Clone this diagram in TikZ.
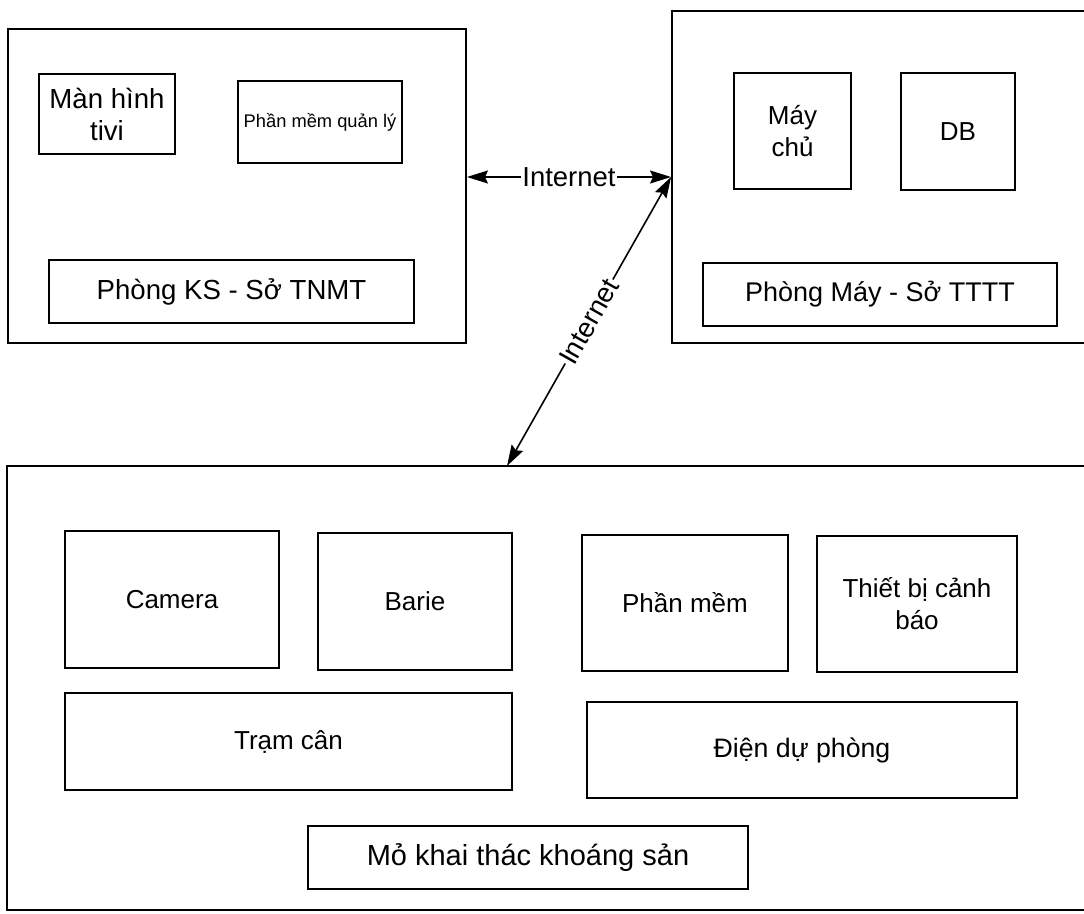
\documentclass[tikz,border=0pt]{standalone}
\usepackage{fontspec}
\setmainfont{Liberation Sans}
\usetikzlibrary{arrows.meta}
\tikzset{
  panel/.style={draw, line width=1.9pt, inner sep=0pt},
  box/.style={draw, line width=1.7pt, inner sep=0pt, align=center, font=\fontsize{26}{32}\selectfont},
  bigtext/.style={font=\fontsize{27.6}{32}\selectfont},
  smallbox/.style={box, font=\fontsize{18.3}{21}\selectfont},
  link/.style={line width=1.6pt, {Stealth[length=21pt,width=13pt,inset=3pt]}-{Stealth[length=21pt,width=13pt,inset=3pt]}},
  linklabel/.style={fill=white, inner sep=1.5pt, font=\fontsize{27.5}{32}\selectfont}
}
\begin{document}
\begin{tikzpicture}[x=1pt,y=-1pt]
\useasboundingbox (0,0) rectangle (1084,913);
\fill[white] (0,0) rectangle (1084,913);
\clip (0,0) rectangle (1084,913);
% panels
\node[panel, minimum width=458pt, minimum height=314pt] (tl) at (237,186) {};
\node[panel, minimum width=428pt, minimum height=332pt] (tr) at (886,177) {};
\node[panel, minimum width=1093pt, minimum height=444pt] (bot) at (553.5,688) {};
% top-left contents
\node[box, bigtext, minimum width=136pt, minimum height=80pt] (tv) at (107,114) {Màn hình\\tivi};
\node[smallbox, minimum width=164pt, minimum height=82pt] (pmql) at (320,122) {Phần mềm quản lý};
\node[box, bigtext, minimum width=365pt, minimum height=63pt] (ks) at (231.5,291.5) {Phòng KS - Sở TNMT};
% top-right contents
\node[box, minimum width=117pt, minimum height=116pt] (maychu) at (792.5,131) {Máy\\chủ};
\node[box, minimum width=114pt, minimum height=117pt] (db) at (958,131.5) {DB};
\node[box, font=\fontsize{27}{32}\selectfont, minimum width=354pt, minimum height=63pt] (pmay) at (880,294.5) {Phòng Máy - Sở TTTT};
% bottom contents
\node[box, minimum width=214pt, minimum height=137pt] (cam) at (172,599.5) {Camera};
\node[box, minimum width=194pt, minimum height=137pt] (barie) at (415,601.5) {Barie};
\node[box, minimum width=206pt, minimum height=136pt] (pm) at (685,603) {Phần mềm};
\node[box, minimum width=200pt, minimum height=136pt] (tb) at (917,604) {Thiết bị cảnh\\báo};
\node[box, minimum width=447pt, minimum height=97pt] (tram) at (288.5,741.5) {Trạm cân};
\node[box, font=\fontsize{26.7}{32}\selectfont, minimum width=430pt, minimum height=96pt] (dien) at (802,750) {Điện dự phòng};
\node[box, font=\fontsize{29}{32}\selectfont, minimum width=440pt, minimum height=63pt] (mo) at (528,857.5) {Mỏ khai thác khoáng sản};
% connectors
\coordinate (d1) at (507,466);
\draw[link] (tl.east |- tr.west) -- node[linklabel] {Internet} (tr.west);
\draw[link] (d1) -- node[linklabel, sloped] {Internet} (tr.west);
\end{tikzpicture}
\end{document}
